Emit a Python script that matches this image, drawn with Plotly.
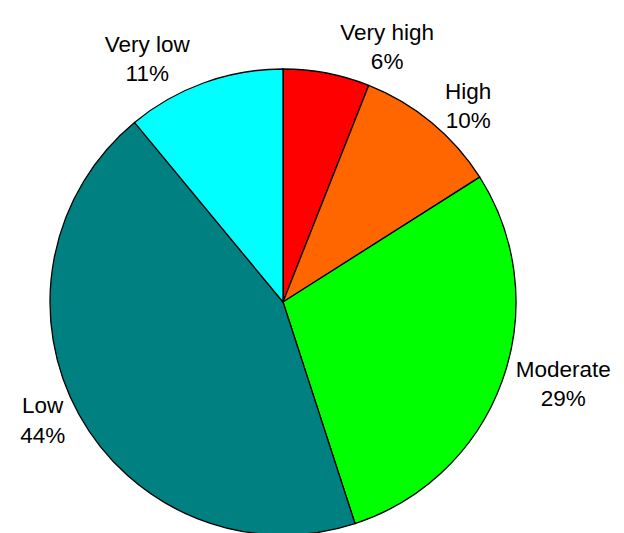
import plotly.graph_objects as go

labels = ["Very high", "High", "Moderate", "Low", "Very low"]
values = [6, 10, 29, 44, 11]
colors = ["#FF0000", "#FF6600", "#00FF00", "#008080", "#00FFFF"]

fig = go.Figure(go.Pie(
    labels=labels,
    values=values,
    marker=dict(colors=colors, line=dict(color="black", width=1.3)),
    sort=False,
    direction="clockwise",
    rotation=0,
    textposition="outside",
    texttemplate="%{label}<br>%{percent:.0%}",
    textfont=dict(family="Liberation Sans, Arial", size=22.5, color="black"),
    hoverinfo="label+percent",
    domain=dict(x=[42/624, 508/624], y=[0.0113, 0.8856]),
    automargin=False,
))
fig.update_layout(
    width=624, height=533,
    margin=dict(l=0, r=0, t=0, b=0),
    paper_bgcolor="white",
    showlegend=False,
)
fig.write_html("out.html")
